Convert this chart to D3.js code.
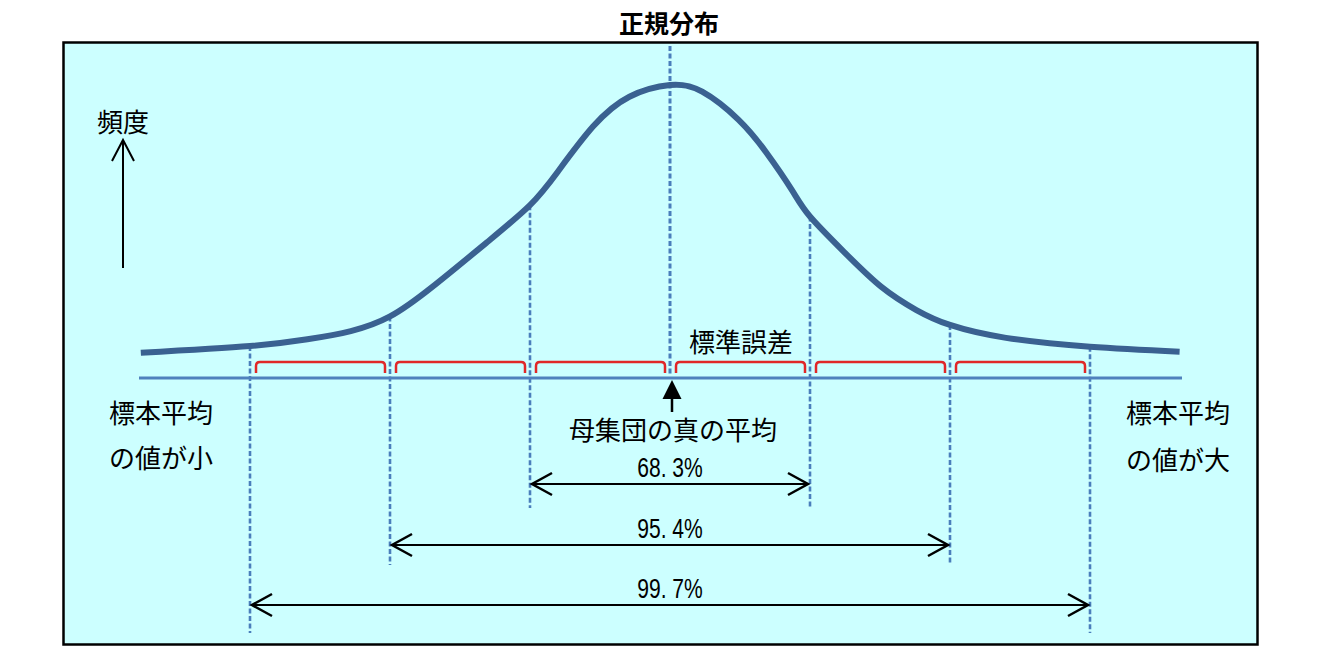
<!DOCTYPE html>
<html>
<head>
<meta charset="utf-8">
<script src="https://cdn.jsdelivr.net/npm/d3@7"></script>
<style>
  body { margin: 0; background: #ffffff; }
  text { font-family: "Noto Sans CJK JP", "Noto Sans", sans-serif; }
</style>
</head>
<body>
<div id="chart"></div>
<script>
// Données : position en écarts-types, hauteur relative (pic = 100)
const curveSigma = [-3.78, -3.0, -2.59, -2.28, -2.0, -1.7, -1.31, -1.0, -0.8, -0.55, -0.29, 0,
                    0.23, 0.49, 0.69, 0.87, 1.0, 1.25, 1.51, 1.76, 2.0, 2.4, 3.0, 3.64];
const curveFreq  = [8.6, 10.9, 13.2, 16.0, 21.0, 31.0, 46.2, 59.0, 70.5, 85.8, 96.0, 100,
                    97.7, 88.1, 76.8, 64.2, 55.1, 42.7, 31.1, 23.2, 18.1, 13.7, 10.7, 9.0];
const sigmaMarks = [-3, -2, -1, 0, 1, 2, 3];
const spans = [1, 2, 3];
const spanLabels = ["68. 3%", "95. 4%", "99. 7%"];
const title = "正規分布";
const yLabel = "頻度";
const leftLabel = ["標本平均", "の値が小"];
const rightLabel = ["標本平均", "の値が大"];
const seLabel = "標準誤差";
const meanLabel = "母集団の真の平均";

const W = 1317, H = 658;
const svg = d3.select("#chart").append("svg")
  .attr("width", W).attr("height", H);

//------Echelles
const x = d3.scaleLinear().domain([-3, 3]).range([250, 1090]);
const y = d3.scaleLinear().domain([0, 100]).range([378, 85]);
const freqAt = s => {
  // hauteur de la courbe à une position donnée (lecture linéaire entre points lus)
  const i = d3.bisectLeft(curveSigma, s);
  if (i <= 0) return curveFreq[0];
  if (i >= curveSigma.length) return curveFreq[curveFreq.length - 1];
  const t = (s - curveSigma[i - 1]) / (curveSigma[i] - curveSigma[i - 1]);
  return curveFreq[i - 1] + t * (curveFreq[i] - curveFreq[i - 1]);
};

//------Cadre
svg.append("rect")
  .attr("x", 63.5).attr("y", 42.5)
  .attr("width", 1194).attr("height", 602)
  .attr("fill", "#ccffff")
  .attr("stroke", "#000").attr("stroke-width", 2.5);

svg.append("text")
  .attr("x", 669).attr("y", 22)
  .attr("text-anchor", "middle").attr("dominant-baseline", "central")
  .style("font-size", "25px").style("font-weight", "bold")
  .text(title);

//------Lignes verticales en pointillés
const dashBottom = {0: 376, 1: 508, 2: 565, 3: 633};
svg.selectAll(".sig")
  .data(sigmaMarks)
  .enter()
  .append("line")
  .attr("class", "sig")
  .attr("x1", d => x(d)).attr("x2", d => x(d))
  .attr("y1", d => d === 0 ? 46 : y(freqAt(d)))
  .attr("y2", d => dashBottom[Math.abs(d)])
  .attr("stroke", "#4a7ebb")
  .attr("stroke-width", d => d === 0 ? 3 : 2.6)
  .attr("stroke-dasharray", "5,2.5");

//------Courbe
const line = d3.line()
  .x((d, i) => x(curveSigma[i]))
  .y(d => y(d))
  .curve(d3.curveNatural);

svg.append("path")
  .datum(curveFreq)
  .attr("d", line)
  .attr("fill", "none")
  .attr("stroke", "#3a6191")
  .attr("stroke-width", 6)
  .attr("stroke-linecap", "butt");

//------Axe horizontal
svg.append("line")
  .attr("x1", 139).attr("x2", 1182)
  .attr("y1", y(0)).attr("y2", y(0))
  .attr("stroke", "#4f81bd").attr("stroke-width", 3);

//------Accolades rouges (écart-type)
const brackets = d3.range(-3, 3);
svg.selectAll(".brk")
  .data(brackets)
  .enter()
  .append("path")
  .attr("class", "brk")
  .attr("d", d => {
    const a = x(d) + 6, b = x(d + 1) - 5, top = 362, bot = 373, r = 4;
    return `M${a},${bot}V${top + r}Q${a},${top} ${a + r},${top}H${b - r}Q${b},${top} ${b},${top + r}V${bot}`;
  })
  .attr("fill", "none")
  .attr("stroke", "#e02828")
  .attr("stroke-width", 2.5);

//------Flèche du vrai moyen
const cx = x(0) + 2;
svg.append("line")
  .attr("x1", cx).attr("x2", cx).attr("y1", 397).attr("y2", 412)
  .attr("stroke", "#000").attr("stroke-width", 2.5);
svg.append("path")
  .attr("d", `M${cx},380L${cx - 9.5},399L${cx + 9.5},399Z`)
  .attr("fill", "#000");

//------Flèches des pourcentages
const spanArrowY = {1: 484, 2: 545, 3: 605};
const chevron = (px, py, dir) => `M${px + dir * 20},${py - 11}L${px},${py}L${px + dir * 20},${py + 11}`;
const gspan = svg.selectAll(".span")
  .data(spans)
  .enter()
  .append("g")
  .attr("class", "span");

gspan.append("line")
  .attr("x1", d => x(-d) + 2).attr("x2", d => x(d) - 2)
  .attr("y1", d => spanArrowY[d]).attr("y2", d => spanArrowY[d])
  .attr("stroke", "#000").attr("stroke-width", 2);
gspan.append("path")
  .attr("d", d => chevron(x(-d) + 2, spanArrowY[d], 1) + chevron(x(d) - 2, spanArrowY[d], -1))
  .attr("fill", "none").attr("stroke", "#000").attr("stroke-width", 2.5);
// police étroite simulée par un scaleX
gspan.append("text")
  .attr("transform", d => `translate(${x(0)},${spanArrowY[d] - 16}) scale(0.78,1)`)
  .attr("text-anchor", "middle")
  .attr("dominant-baseline", "central")
  .style("font-family", "'Liberation Sans', sans-serif")
  .style("font-size", "27px")
  .text((d, i) => spanLabels[i]);

//------Axe vertical "頻度"
svg.append("line")
  .attr("x1", 123).attr("x2", 123).attr("y1", 268).attr("y2", 141)
  .attr("stroke", "#000").attr("stroke-width", 2);
svg.append("path")
  .attr("d", "M112,161L123,140L134,161")
  .attr("fill", "none").attr("stroke", "#000").attr("stroke-width", 2);
svg.append("text")
  .attr("x", 97).attr("y", 120)
  .attr("dominant-baseline", "central")
  .style("font-size", "26px")
  .text(yLabel);

//------Textes
const labels = [
  {t: leftLabel[0], x: 109, y: 411, a: "start"},
  {t: leftLabel[1], x: 109, y: 456, a: "start"},
  {t: rightLabel[0], x: 1126, y: 411, a: "start"},
  {t: rightLabel[1], x: 1126, y: 458, a: "start"},
  {t: seLabel, x: 741, y: 340, a: "middle"},
  {t: meanLabel, x: 673, y: 428, a: "middle"}
];
svg.selectAll(".lbl")
  .data(labels)
  .enter()
  .append("text")
  .attr("class", "lbl")
  .attr("x", d => d.x).attr("y", d => d.y)
  .attr("text-anchor", d => d.a)
  .attr("dominant-baseline", "central")
  .style("font-size", "26px")
  .text(d => d.t);
</script>
</body>
</html>
